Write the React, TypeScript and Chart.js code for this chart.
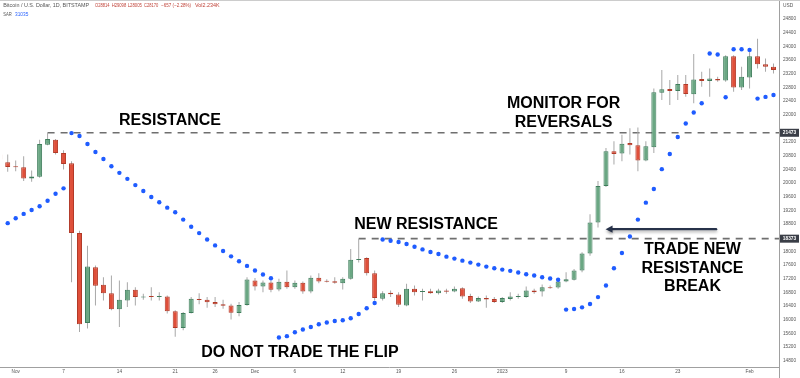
import React, { useEffect, useRef } from "react";
import { Chart, registerables } from "chart.js";

Chart.register(...registerables);

// Daily BTC/USD candles (Bitstamp), one per day starting at this date
const firstDate = "2022-10-30";

const opens = [
  20835, 20611, 20494, 20465, 20137, 20183, 21126, 21271, 20882, 20582,
  18536, 15905, 17535, 17023, 16778, 16304, 16566, 16877, 16653, 16691,
  16668, 16682, 16246, 15760, 16196, 16604, 16586, 16522, 16450, 16420,
  16196, 16429, 17148, 16973, 17090, 16886, 17110, 16953, 17081, 16828,
  17227, 17128, 17128, 17069, 17197, 17750, 17809, 17360, 16615, 16790,
  16741, 16420, 16906, 16813, 16837, 16778, 16857, 16828, 16924, 16691,
  16537, 16633, 16604, 16517, 16604, 16662, 16662, 16857, 16828, 16953,
  16944, 17119, 17168, 17439, 17942, 18845, 19912, 20931, 20864, 21173,
  21106, 20660, 21047, 22648, 22756, 22697, 22901, 22598, 23047, 22988,
  23047, 23006, 23716, 22802, 23093, 23716, 23483, 23404, 23308,
];
const highs = [
  20902, 20835, 20660, 20785, 20369, 21271, 21473, 21289, 20960, 20640,
  18603, 18166, 17584, 17244, 17293, 17148, 17099, 16953, 16761, 16953,
  16808, 16711, 16275, 16226, 16662, 16778, 16662, 16662, 16586, 16470,
  16517, 17244, 17221, 17148, 17148, 17197, 17439, 17148, 17119, 17293,
  17360, 17186, 17244, 17244, 18070, 18373, 17826, 17439, 16837, 16857,
  16808, 17052, 17002, 16906, 16906, 16906, 16906, 16973, 16953, 16761,
  16682, 16711, 16662, 16662, 16808, 16761, 16973, 16906, 17032, 17002,
  17168, 17390, 17488, 17972, 19089, 20058, 21027, 21222, 21417, 21609,
  21629, 21222, 22773, 23308, 23017, 23163, 23163, 23783, 23259, 23355,
  23113, 23745, 23745, 23404, 23841, 24228, 23646, 23501, 23376,
];
const lows = [
  20582, 20329, 20349, 20058, 20038, 20160, 21106, 20835, 20398, 17099,
  15644, 15742, 16420, 16566, 16275, 15789, 16371, 16420, 16586, 16566,
  16566, 16179, 15498, 15693, 16179, 16450, 16354, 16371, 16324, 16004,
  16100, 16412, 16857, 16808, 16808, 16837, 16906, 16906, 16761, 16778,
  17069, 17090, 17052, 16886, 17168, 17672, 17293, 16566, 16566, 16662,
  16371, 16391, 16711, 16566, 16761, 16741, 16761, 16808, 16615, 16487,
  16517, 16354, 16487, 16487, 16566, 16615, 16645, 16761, 16682, 16906,
  16906, 17099, 17148, 17390, 17875, 18699, 19883, 20544, 20640, 20835,
  20349, 20640, 20882, 22435, 22290, 22435, 22531, 22337, 22822, 22531,
  22968, 22968, 22677, 22726, 22773, 23355, 23259, 23210, 22822,
];
const closes = [
  20689, 20474, 20465, 20137, 20195, 21143, 21289, 20882, 20561, 18536,
  15868, 17555, 16994, 16778, 16304, 16586, 16877, 16662, 16682, 16668,
  16688, 16246, 15760, 16196, 16615, 16575, 16508, 16450, 16412, 16202,
  16429, 17177, 16973, 17090, 16877, 17110, 16953, 17081, 16828, 17227,
  17119, 17110, 17081, 17197, 17759, 17779, 17360, 16633, 16778, 16749,
  16441, 16906, 16808, 16828, 16778, 16857, 16819, 16906, 16682, 16537,
  16633, 16595, 16517, 16633, 16682, 16682, 16857, 16808, 16953, 16924,
  17119, 17186, 17439, 17942, 18845, 19912, 20931, 20852, 21155, 21106,
  20660, 21076, 22657, 22744, 22697, 22901, 22610, 23035, 22988, 23064,
  23006, 23716, 22802, 23114, 23716, 23483, 23404, 23308, 22919,
];
// Parabolic SAR, aligned with the candles
const sar = [
  null, 18827, 18973, 19098, 19214, 19322, 19485, 19689, 19846, 21464,
  21377, 21144, 20911, 20707, 20495, 20300, 20125, 19942, 19767, 19593,
  19439, 19281, 19148, 18932, 18720, 18536, 18350, 18176, 18013, 17856,
  17710, 17576, 17439, 17323, 17215, 15481, 15519, 15635, 15714, 15789,
  15868, 15917, 15964, 15984, 16043, 16168, 16334, 16488, 18350, 18312,
  18275, 18216, 18138, 18059, 17984, 17925, 17847, 17789, 17730, 17672,
  17614, 17556, 17506, 17468, 17431, 17381, 17332, 17294, 17244, 17207,
  17169, 16296, 16313, 16363, 16459, 16662, 17003, 17506, 17954, 18438,
  18932, 19427, 19826, 20408, 20853, 21348, 21746, 22066, 22337, 23792,
  23763, 22512, 23920, 23920, 23900, 22474, 22523, 22581, null,
];

const priceTicks = [
  14800, 15200, 15600, 16000, 16400, 16800, 17200, 17600, 18000, 18800,
  19200, 19600, 20000, 20400, 20800, 21200, 22000, 22400, 22800, 23200,
  23600, 24000, 24400, 24800,
];
const dateTickDates = [
  "2022-11-01", "2022-11-07", "2022-11-14", "2022-11-21", "2022-11-26",
  "2022-12-01", "2022-12-06", "2022-12-12", "2022-12-19", "2022-12-26",
  "2023-01-01", "2023-01-09", "2023-01-16", "2023-01-23", "2023-02-01",
];
const dateTickLabels = ["Nov", "7", "14", "21", "26", "Dec", "6", "12", "19", "26", "2023", "9", "16", "23", "Feb"];

const resistanceLevels = [
  { from: "2022-11-05", price: 21473 },
  { from: "2022-12-14", price: 18373 },
];

// annotation layout (day offsets from Dec 1 2022, price for vertical centre)
const notes = [
  { lines: ["RESISTANCE"], day: -10.65, price: 21833 },
  { lines: ["MONITOR FOR", "REVERSALS"], day: 38.69, price: 22313 },
  { lines: ["NEW RESISTANCE"], day: 21.44, price: 18798 },
  { lines: ["DO NOT TRADE THE FLIP"], day: 5.63, price: 15047 },
  { lines: ["TRADE NEW", "RESISTANCE", "BREAK"], day: 54.85, price: 18050 },
];
const arrowNote = { tailDay: 57.8, tipDay: 43.95, price: 18652 };

const DAY0 = Date.UTC(2022, 11, 1);
function dayOf(s: string): number {
  const [yy, mm, dd] = s.split("-").map(Number);
  return (Date.UTC(yy, mm - 1, dd) - DAY0) / 86400000;
}

const FONT = '"Liberation Sans", Arial, sans-serif';

const overlayPlugin = {
  id: "overlay",
  beforeDatasetsDraw(chart: any) {
    const { ctx, chartArea, scales } = chart;
    const xs = scales.x;
    const ys = scales.y;
    ctx.save();
    ctx.beginPath();
    ctx.rect(chartArea.left, chartArea.top, chartArea.right - chartArea.left, chartArea.bottom - chartArea.top);
    ctx.clip();
    ctx.strokeStyle = "#6f6f6f";
    ctx.lineWidth = 1.6;
    ctx.setLineDash([7, 6]);
    for (const lvl of resistanceLevels) {
      const py = ys.getPixelForValue(lvl.price);
      ctx.beginPath();
      ctx.moveTo(xs.getPixelForValue(dayOf(lvl.from)), py);
      ctx.lineTo(chartArea.right, py);
      ctx.stroke();
    }
    ctx.restore();
  },
  afterDatasetsDraw(chart: any) {
    const { ctx, scales } = chart;
    const xs = scales.x;
    const ys = scales.y;
    // arrow
    const ax1 = xs.getPixelForValue(arrowNote.tailDay);
    const ax2 = xs.getPixelForValue(arrowNote.tipDay);
    const ay = ys.getPixelForValue(arrowNote.price);
    ctx.save();
    ctx.shadowColor = "rgba(0,0,0,0.3)";
    ctx.shadowBlur = 3;
    ctx.shadowOffsetY = 2;
    ctx.strokeStyle = "#27324a";
    ctx.fillStyle = "#27324a";
    ctx.lineWidth = 2.4;
    ctx.lineCap = "round";
    ctx.beginPath();
    ctx.moveTo(ax1, ay);
    ctx.lineTo(ax2 + 5, ay);
    ctx.stroke();
    ctx.beginPath();
    ctx.moveTo(ax2, ay);
    ctx.lineTo(ax2 + 7, ay - 3.6);
    ctx.lineTo(ax2 + 7, ay + 3.6);
    ctx.closePath();
    ctx.fill();
    ctx.restore();

    // texts
    ctx.save();
    ctx.font = `bold 16px ${FONT}`;
    ctx.fillStyle = "#000";
    ctx.textAlign = "center";
    ctx.textBaseline = "middle";
    for (const n of notes) {
      const cx = xs.getPixelForValue(n.day);
      const cy = ys.getPixelForValue(n.price);
      n.lines.forEach((ln, i) => ctx.fillText(ln, cx, cy + i * 18.4));
    }
    ctx.restore();
  },
  afterDraw(chart: any) {
    const { ctx, chartArea, scales } = chart;
    const ys = scales.y;
    ctx.save();
    ctx.setLineDash([]);
    ctx.lineWidth = 1;
    ctx.strokeStyle = "#a0a0a0";
    ctx.beginPath();
    ctx.moveTo(0, chartArea.bottom + 0.5);
    ctx.lineTo(chartArea.right, chartArea.bottom + 0.5);
    ctx.stroke();
    ctx.beginPath();
    ctx.moveTo(chartArea.right + 0.5, 0);
    ctx.lineTo(chartArea.right + 0.5, chart.height);
    ctx.stroke();
    ctx.strokeStyle = "#cccccc";
    ctx.beginPath();
    ctx.moveTo(0, 0.5);
    ctx.lineTo(chart.width, 0.5);
    ctx.stroke();

    // price label boxes
    for (const lvl of resistanceLevels) {
      const py = ys.getPixelForValue(lvl.price);
      ctx.fillStyle = "#3a3e47";
      ctx.fillRect(chartArea.right + 1, py - 4, 19, 8);
      ctx.fillStyle = "#ffffff";
      ctx.font = `bold 4.8px ${FONT}`;
      ctx.textAlign = "center";
      ctx.textBaseline = "middle";
      ctx.fillText(String(lvl.price), chartArea.right + 10.5, py + 0.3);
    }

    // USD
    ctx.fillStyle = "#555";
    ctx.font = `4.8px ${FONT}`;
    ctx.textAlign = "left";
    ctx.textBaseline = "middle";
    ctx.fillText("USD", chartArea.right + 4, 5.6);

    // header legend
    const seg = (t: string, x: number, w: number, y: number, c: string) => {
      ctx.fillStyle = c;
      ctx.fillText(t, x, y, w);
    };
    ctx.font = `5.4px ${FONT}`;
    seg("Bitcoin / U.S. Dollar, 1D, BITSTAMP", 3.3, 86, 6, "#555555");
    const red = "#c0443a";
    seg("O28814", 95, 14.5, 6, red);
    seg("H29098", 111.7, 14.5, 6, red);
    seg("L28005", 127.7, 14.3, 6, red);
    seg("C28170", 144, 14.3, 6, red);
    seg("\u2212657 (\u22122.28%)", 161, 30, 6, red);
    seg("Vol2.234K", 195, 42, 6, red);
    seg("SAR", 3.3, 8.5, 14.4, "#555555");
    seg("31035", 15, 13.3, 14.4, "#2962ff");
    ctx.restore();
  },
};

export default function App() {
  const canvasRef = useRef<HTMLCanvasElement | null>(null);

  useEffect(() => {
    const canvas = canvasRef.current;
    if (!canvas) return;
    const start = dayOf(firstDate);
    const xsVals = opens.map((_, i) => start + i);
    const up = opens.map((o, i) => closes[i] >= o);

    const chart = new Chart(canvas, {
      type: "bar",
      data: {
        datasets: [
          {
            type: "line",
            label: "SAR",
            data: xsVals.map((x, i) => ({ x, y: sar[i] })),
            showLine: false,
            pointRadius: 2.2,
            pointHoverRadius: 2.2,
            pointBackgroundColor: "#1f5cff",
            pointBorderWidth: 0,
            order: 0,
          } as any,
          {
            type: "bar",
            label: "Body",
            data: xsVals.map((x, i) => ({ x, y: [opens[i], closes[i]] })),
            backgroundColor: up.map((u) => (u ? "#6aa783" : "#df4f3a")),
            borderColor: up.map((u) => (u ? "#3f7d5c" : "#b23a28")),
            borderWidth: 1,
            borderSkipped: false,
            grouped: false,
            barThickness: 5,
            maxBarThickness: 5,
            minBarLength: 1,
            inflateAmount: 0,
            order: 1,
          } as any,
          {
            type: "bar",
            label: "Wick",
            data: xsVals.map((x, i) => ({ x, y: [lows[i], highs[i]] })),
            backgroundColor: "#a8a8a8",
            borderWidth: 0,
            grouped: false,
            barThickness: 1,
            maxBarThickness: 1,
            inflateAmount: 0,
            order: 2,
          } as any,
        ],
      },
      options: {
        responsive: false,
        animation: false,
        devicePixelRatio: 1,
        events: [],
        layout: { padding: 0 },
        plugins: { legend: { display: false }, tooltip: { enabled: false } },
        scales: {
          x: {
            type: "linear",
            min: -31.69,
            max: 65.69,
            offset: false,
            grid: { display: false, drawTicks: false },
            border: { display: false },
            afterBuildTicks: (s: any) => {
              s.ticks = dateTickDates.map((d) => ({ value: dayOf(d) }));
            },
            afterFit: (s: any) => {
              s.height = 11;
              s.paddingLeft = 0;
              s.paddingRight = 0;
            },
            ticks: {
              autoSkip: false,
              maxRotation: 0,
              padding: 2,
              color: "#555",
              font: { size: 4.7, family: FONT },
              callback: (_v: any, i: number) => dateTickLabels[i],
            },
          },
          y: {
            type: "linear",
            position: "right",
            min: 14616,
            max: 25296,
            grid: { display: false, drawTicks: false },
            border: { display: false },
            afterBuildTicks: (s: any) => {
              s.ticks = priceTicks.map((v) => ({ value: v }));
            },
            afterFit: (s: any) => {
              s.width = 21;
              s.paddingTop = 0;
              s.paddingBottom = 0;
            },
            ticks: {
              padding: 4,
              color: "#555",
              font: { size: 4.7, family: FONT },
              callback: (v: any) => String(v),
            },
          },
        },
      } as any,
      plugins: [overlayPlugin],
    });
    return () => chart.destroy();
  }, []);

  return (
    <div style={{ position: "absolute", left: 0, top: 0, width: 800, height: 378, background: "#ffffff" }}>
      <canvas ref={canvasRef} width={800} height={378} style={{ display: "block" }} />
    </div>
  );
}
